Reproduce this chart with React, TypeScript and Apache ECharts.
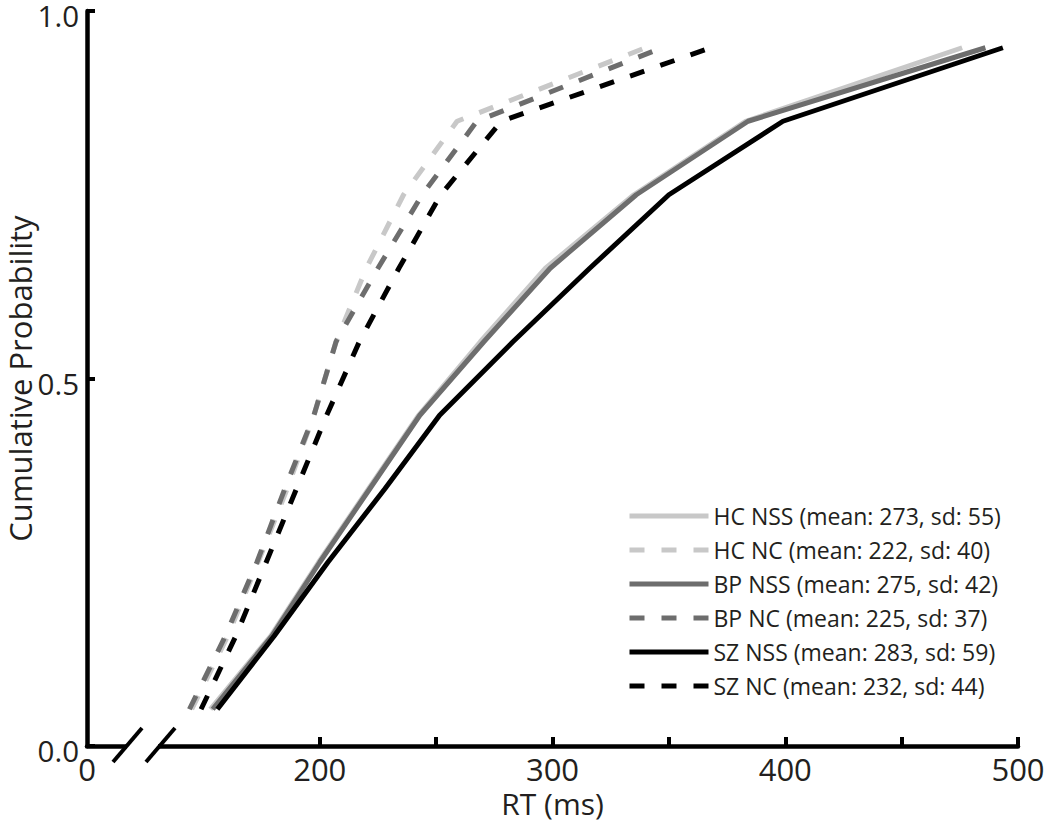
import React, { useEffect, useRef } from "react";
import * as echarts from "echarts";

const probs = [0.05, 0.15, 0.25, 0.35, 0.45, 0.55, 0.65, 0.75, 0.85, 0.95];

const hcNSS = [153, 179, 199.5, 221, 242.5, 269, 297, 335, 383, 476];
const hcNC = [145, 160.5, 173.5, 186, 197.5, 207, 220, 236, 259, 340];
const bpNSS = [154, 179.5, 200, 221.5, 243, 270.5, 299, 336, 384, 486];
const bpNC = [144, 159.5, 173, 185, 197.5, 207, 225, 244, 267.5, 347];
const szNSS = [156, 180.5, 203.5, 228, 251.5, 283, 316, 350, 399, 493.5];
const szNC = [149, 164, 177, 190, 203, 217, 234, 252, 278, 368];

const seriesNames = [
  "HC NSS (mean: 273, sd: 55)",
  "HC NC (mean: 222, sd: 40)",
  "BP NSS (mean: 275, sd: 42)",
  "BP NC (mean: 225, sd: 37)",
  "SZ NSS (mean: 283, sd: 59)",
  "SZ NC (mean: 232, sd: 44)",
];
const seriesValues = [hcNSS, hcNC, bpNSS, bpNC, szNSS, szNC];
const seriesColors = ["#c8c8c8", "#c8c8c8", "#6d6d6d", "#6d6d6d", "#000000", "#000000"];
const seriesDashed = [false, true, false, true, false, true];

const xLabelValues = [100, 200, 300, 400, 500];
const xTickValues = [200, 250, 300, 350, 400, 450, 500];

const FONT = "'Open Sans', 'Noto Sans', sans-serif";
const TEXT = "#231f20";

export default function App() {
  const ref = useRef<HTMLDivElement>(null);
  useEffect(() => {
    if (!ref.current) return;
    const chart = echarts.init(ref.current, undefined, { renderer: "svg" });
    const series = seriesNames.map((name, i) => ({
      name,
      type: "line",
      symbol: "none",
      data: seriesValues[i].map((x, k) => [x, probs[k]]),
      lineStyle: {
        color: seriesColors[i],
        width: 5,
        type: seriesDashed[i] ? [15, 17] : "solid",
        cap: "butt",
      },
      itemStyle: { color: seriesColors[i] },
      z: 2,
    }));
    chart.setOption({
      animation: false,
      textStyle: { fontFamily: FONT },
      grid: {
        left: 87,
        right: 32,
        top: 11,
        bottom: 77,
        containLabel: false,
        outerBoundsMode: "none",
      },
      legend: {
        orient: "vertical",
        left: 622,
        top: 499,
        itemWidth: 79,
        itemHeight: 24,
        itemGap: 10,
        data: seriesNames,
        itemStyle: { opacity: 0 },
        lineStyle: { width: 5 },
        textStyle: { fontFamily: FONT, fontSize: 23, color: TEXT, lineHeight: 24 },
        selectedMode: false,
      },
      xAxis: {
        type: "value",
        min: 100,
        max: 500,
        interval: 50,
        name: "RT (ms)",
        nameLocation: "middle",
        nameGap: 44,
        nameMoveOverlap: false,
        nameTextStyle: { fontFamily: FONT, fontSize: 30, color: TEXT, lineHeight: 26 },
        splitLine: { show: false },
        axisLine: { show: true, lineStyle: { color: "#000", width: 4.5 } },
        axisTick: {
          show: true,
          inside: true,
          length: 9,
          lineStyle: { color: "#000", width: 4 },
          customValues: xTickValues,
        },
        axisLabel: {
          customValues: xLabelValues,
          formatter: (v: number) => (v === 100 ? "0" : String(v)),
          fontFamily: FONT,
          fontSize: 31,
          color: TEXT,
          lineHeight: 24,
          margin: 11,
        },
      },
      yAxis: {
        type: "value",
        min: 0,
        max: 1,
        interval: 0.5,
        name: "Cumulative Probability",
        nameLocation: "middle",
        nameGap: 54,
        nameMoveOverlap: false,
        nameTextStyle: { fontFamily: FONT, fontSize: 31, color: TEXT, lineHeight: 26 },
        splitLine: { show: false },
        axisLine: { show: true, lineStyle: { color: "#000", width: 4.5 } },
        axisTick: { show: true, inside: true, length: 8, lineStyle: { color: "#000", width: 4 } },
        axisLabel: {
          formatter: (v: number) => "{a|" + v.toFixed(1) + "}",
          margin: 8,
          rich: {
            a: {
              fontFamily: FONT,
              fontSize: 29.5,
              color: TEXT,
              lineHeight: 29,
              padding: [9, 0, 0, 0],
            },
          },
        },
      },
      graphic: [
        {
          type: "rect",
          shape: { x: 127, y: 740, width: 31, height: 13 },
          style: { fill: "#ffffff" },
          z: 100,
        },
        {
          type: "line",
          shape: { x1: 113, y1: 762, x2: 142, y2: 728 },
          style: { stroke: "#000", lineWidth: 4 },
          z: 101,
        },
        {
          type: "line",
          shape: { x1: 146, y1: 762, x2: 175, y2: 728 },
          style: { stroke: "#000", lineWidth: 4 },
          z: 101,
        },
      ],
      series,
    });
    return () => chart.dispose();
  }, []);
  return (
    <div
      ref={ref}
      style={{ position: "absolute", left: 0, top: 0, width: 1050, height: 823 }}
    />
  );
}
